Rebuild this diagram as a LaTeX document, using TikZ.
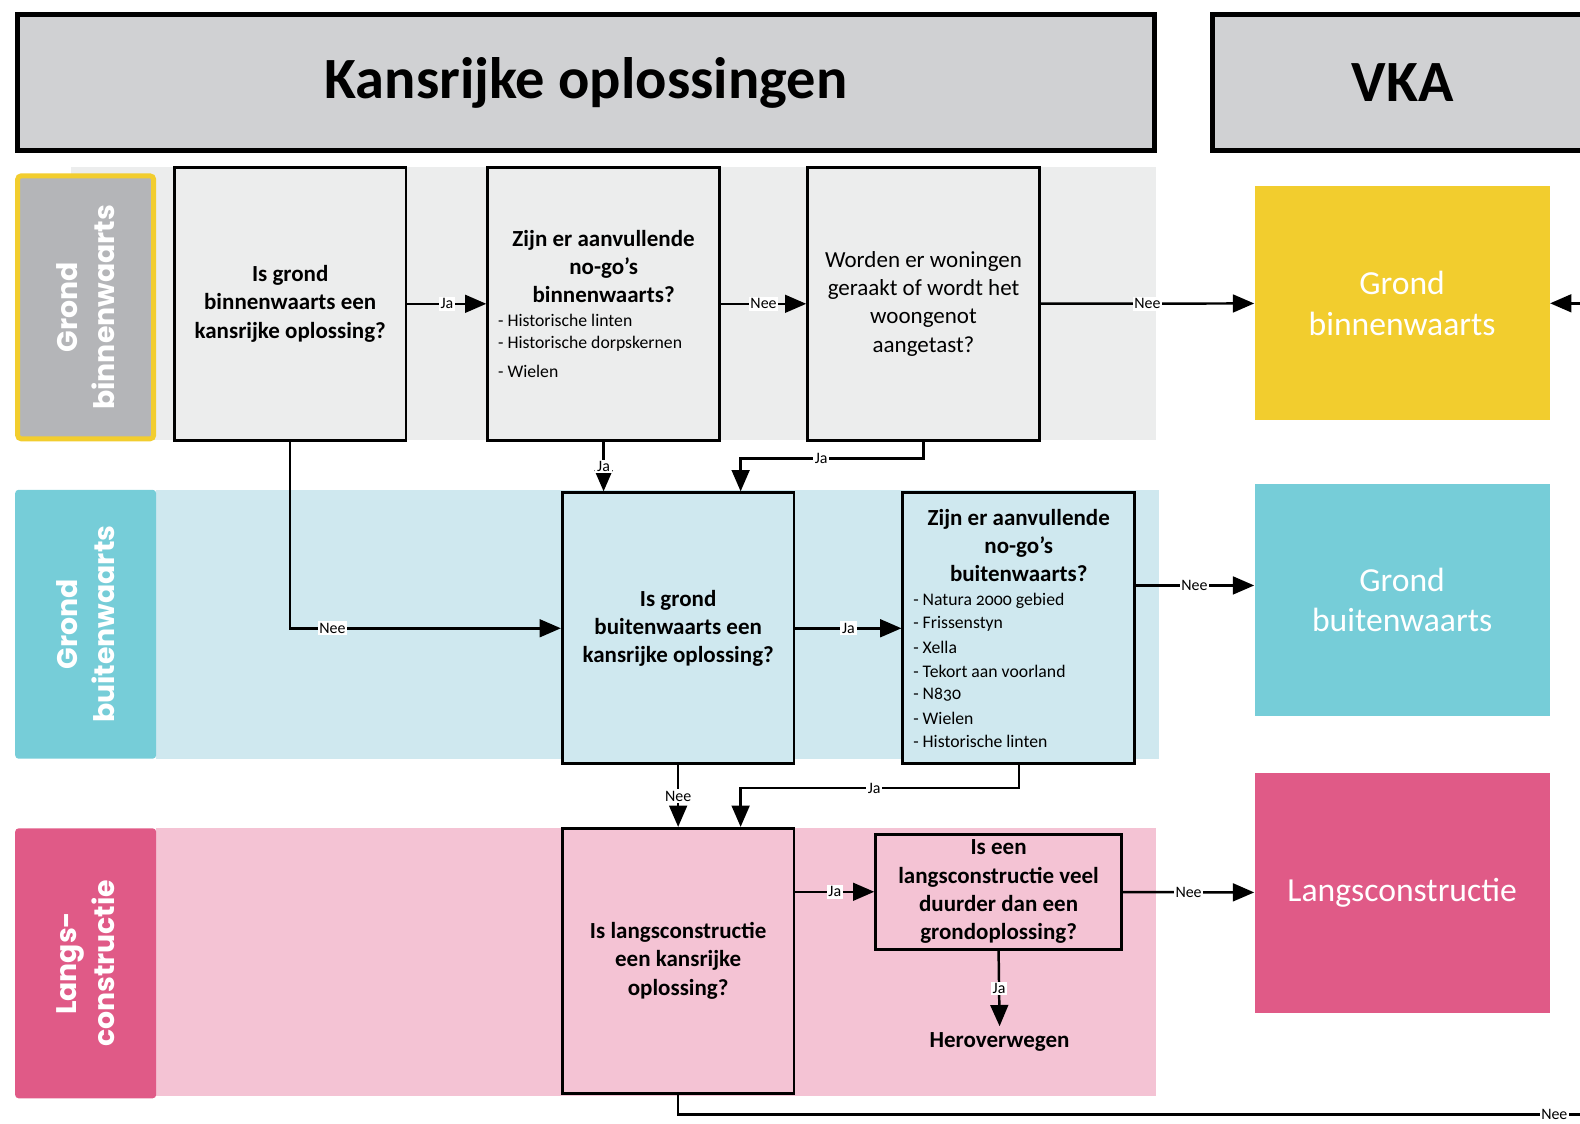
\documentclass[tikz,border=0pt]{standalone}
\usepackage{fontspec}
\setmainfont{Carlito}
\newfontfamily\lanefont{Poppins}
\usetikzlibrary{positioning}
\usetikzlibrary{arrows.meta}
\usetikzlibrary{calc}

\definecolor{kopgrijs}{HTML}{D0D1D3}
\definecolor{baangrijs}{HTML}{B4B5B8}
\definecolor{lichtgrijs}{HTML}{ECEDED}
\definecolor{geel}{HTML}{F2CD2E}
\definecolor{blauw}{HTML}{76CDD8}
\definecolor{lichtblauw}{HTML}{CFE8EF}
\definecolor{roze}{HTML}{E05A87}
\definecolor{lichtroze}{HTML}{F4C3D4}

\begin{document}
\begin{tikzpicture}[x=0.02cm, y=-0.02cm,
    kop/.style={draw, line width=2.8pt, fill=kopgrijs, minimum height=2.7cm, inner sep=0pt, font=\bfseries\fontsize{33}{40}\selectfont},
    vraag/.style={draw, line width=1.6pt, inner sep=0pt, minimum width=4.6cm, align=center, font=\bfseries\fontsize{13}{16}\selectfont},
    item/.style={anchor=west, inner sep=0pt, font=\fontsize{10}{12}\selectfont\addfontfeatures{Numbers=OldStyle}},
    vka/.style={inner sep=0pt, minimum width=5.86cm, text=white, align=center, font=\fontsize{19}{23}\selectfont},
    baan/.style={rotate=90, inner sep=0pt, rounded corners=2pt, text=white, align=center, font=\lanefont\bfseries\fontsize{16}{21}\selectfont},
    arr/.style={-{Triangle[length=12pt,width=10pt]}, line width=1.4pt},
    lbl/.style={fill=white, inner sep=1pt, font=\fontsize{9}{10}\selectfont}]

    \useasboundingbox (0,0) rectangle (1568,1115);
    \clip (0,0) rectangle (1568,1115);

    % lanes
    \fill[lichtgrijs] (70,166) rectangle (1147,437);
    \fill[lichtblauw] (155,486) rectangle (1150,753);
    \fill[lichtroze] (155,822) rectangle (1147,1088);

    % headers
    \node[kop, minimum width=22.56cm] (h1) at (581.5,82) {Kansrijke oplossingen};
    \node[kop, minimum width=7.54cm] (h2) at (1392,82) {VKA};

    % lane labels
    \node[baan, fill=baangrijs, draw=geel, line width=2.8pt, minimum width=5.22cm, minimum height=2.7cm] (l1) at (85,305) {Grond\\binnenwaarts};
    \node[baan, fill=blauw, minimum width=5.34cm, minimum height=2.8cm] (l2) at (85,619.5) {Grond\\buitenwaarts};
    \node[baan, fill=roze, minimum width=5.36cm, minimum height=2.8cm] (l3) at (85,956) {Langs-\\constructie};

    % questions
    \node[vraag, fill=lichtgrijs, minimum height=5.42cm] (q1) at (288,301.5) {Is grond\\binnenwaarts een\\kansrijke oplossing?};
    \node[vraag, fill=lichtgrijs, minimum height=5.42cm] (q2) at (599,301.5) {};
    \node[vraag, fill=lichtgrijs, minimum height=5.42cm, font=\fontsize{13}{16}\selectfont] (q3) at (916.5,301.5) {Worden er woningen\\geraakt of wordt het\\woongenot\\aangetast?};
    \node[vraag, fill=lichtblauw, minimum height=5.38cm] (q4) at (673,623.5) {Is grond\\buitenwaarts een\\kansrijke oplossing?};
    \node[vraag, fill=lichtblauw, minimum height=5.38cm] (q5) at (1011,623.5) {};
    \node[vraag, fill=lichtroze, minimum height=5.26cm] (q6) at (673,953.5) {Is langsconstructie\\een kansrijke\\oplossing?};
    \node[vraag, fill=lichtroze, minimum width=4.88cm, minimum height=2.28cm] (q7) at (991,885) {Is een\\langsconstructie veel\\duurder dan een\\grondoplossing?};
    \node[font=\bfseries\fontsize{13}{16}\selectfont] (hv) at (992,1034) {Heroverwegen};

    % no-go's
    \node[align=center, inner sep=0pt, font=\bfseries\fontsize{13}{16}\selectfont] (t2) at (599,264.5) {Zijn er aanvullende\\no-go’s\\binnenwaarts?};
    \foreach \t/\y in {Historische linten/318, Historische dorpskernen/341, Wielen/369}
        \node[item] at (494,\y) {- \t};
    \node[align=center, inner sep=0pt, font=\bfseries\fontsize{13}{16}\selectfont] (t5) at (1011,541.5) {Zijn er aanvullende\\no-go’s\\buitenwaarts?};
    \foreach \t [count=\i from 0] in {Natura 2000 gebied, Frissenstyn, Xella, Tekort aan voorland, N830, Wielen, Historische linten}
        \node[item] at (906,596+23.3*\i) {- \t};

    % VKA
    \node[vka, fill=geel, minimum height=4.64cm] (v1) at (1391.5,301) {Grond\\binnenwaarts};
    \node[vka, fill=blauw, minimum height=4.62cm] (v2) at (1391.5,595.5) {Grond\\buitenwaarts};
    \node[vka, fill=roze, minimum height=4.76cm] (v3) at (1391.5,886) {Langsconstructie};

    % connectors
    \coordinate (e1) at (1600,301);
    \coordinate (e2) at (1600,1106);
    \coordinate (j1) at (735,455);
    \coordinate (j2) at (735,782);
    \coordinate (n5) at (1126,581);

    \draw[arr] (q1) -- node[lbl]{Ja} (q2);
    \draw[arr] (q2) -- node[lbl]{Nee} (q3);
    \draw[arr] (q3) -- node[lbl]{Nee} (v1);
    \draw[arr] (e1) -- (v1.east);
    \draw[arr] (q1.south) |- node[lbl, pos=0.578]{Nee} (q4.west);
    \draw[arr] (q2.south) -- node[lbl]{Ja} (q2.south |- q4.north);
    \draw[arr] (q3.south) |- node[lbl, pos=0.78]{Ja} (j1) -- (j1 |- q4.north);
    \draw[arr] (q4) -- node[lbl]{Ja} (q5);
    \draw[arr] (n5) -- node[lbl]{Nee} (n5 -| v2.west);
    \draw[arr] (q4.south) -- node[lbl]{Nee} (q6.north);
    \draw[arr] (q5.south) |- node[lbl, pos=0.76]{Ja} (j2) -- (j2 |- q6.north);
    \draw[arr] (q6.east |- q7.west) -- node[lbl]{Ja} (q7.west);
    \draw[arr] (q7) -- node[lbl]{Nee} (v3);
    \draw[arr] (q7.south) -- node[lbl]{Ja} (hv.north);
    \draw[line width=1.4pt] (q6.south) |- node[lbl, pos=0.969]{Nee} (e2);
\end{tikzpicture}
\end{document}
